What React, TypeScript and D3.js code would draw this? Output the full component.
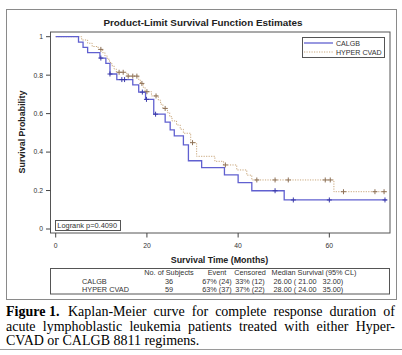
import React, { useEffect, useRef } from "react";
import * as d3 from "d3";

// ---- data ----
const calgbTimes = [0, 5, 6, 7, 9.7, 11, 11.9, 13.4, 16.9, 18.2, 19.7, 21.5, 24, 25.1, 26, 28, 29.1, 32, 37, 40, 43, 50.1, 72.6];
const calgbSurv = [1, 0.972, 0.944, 0.917, 0.889, 0.861, 0.806, 0.777, 0.749, 0.712, 0.674, 0.597, 0.556, 0.515, 0.484, 0.437, 0.355, 0.319, 0.281, 0.241, 0.199, 0.151, 0.151];
const calgbCensor = [9.9, 11.9, 14.5, 15.1, 19.0, 19.9, 21.9, 48.1, 52.1, 60, 72.2];

const hyperTimes = [0, 5.7, 7, 8, 9.3, 10.3, 10.8, 11.3, 11.8, 12.3, 12.8, 13.3, 15.6, 18.2, 18.6, 19.2, 19.6, 21, 22.5, 23, 23.5, 24.5, 25, 25.5, 26.5, 27.3, 28, 29.6, 30.9, 34.9, 36.8, 39.7, 41.9, 43, 61, 72.6];
const hyperSurv = [1, 0.983, 0.966, 0.949, 0.934, 0.917, 0.9, 0.883, 0.866, 0.849, 0.832, 0.815, 0.795, 0.774, 0.757, 0.736, 0.714, 0.692, 0.67, 0.649, 0.627, 0.605, 0.584, 0.562, 0.541, 0.519, 0.498, 0.449, 0.378, 0.352, 0.333, 0.307, 0.28, 0.255, 0.194, 0.194];
const hyperCensor = [9.9, 13.9, 14.8, 15.9, 16.9, 17.8, 18.9, 20, 22, 24, 30, 37.2, 44.1, 48.1, 51, 59.1, 60.2, 63.1, 70, 72];

const xTicks = [0, 20, 40, 60];
const yTicks = [0, 0.2, 0.4, 0.6, 0.8, 1];
const yTickLabels = ["0", "0.2", "0.4", "0.6", "0.8", "1"];

const seriesNames = ["CALGB", "HYPER CVAD"];
const tableHeader = ["No. of Subjects", "Event", "Censored", "Median Survival (95% CL)"];
const tableSubjects = ["36", "59"];
const tableEvent = ["67% (24)", "63% (37)"];
const tableCensored = ["33% (12)", "37% (22)"];
const tableMedian = ["26.00 ( 21.00   32.00)", "28.00 ( 24.00   35.00)"];

const captionLines = [
  "Kaplan-Meier curve for complete response duration of",
  "acute lymphoblastic leukemia patients treated with either Hyper-",
  "CVAD or CALGB 8811 regimens.",
];

const SANS = "'Liberation Sans', Arial, sans-serif";
const SERIF = "'Liberation Serif', 'Times New Roman', serif";

const blue = "#6060d0";
const blueMark = "#3a3aa8";
const tan = "#c9a77c";
const tanMark = "#8e7258";

function stepValue(times: number[], surv: number[], t: number) {
  let v = surv[0];
  for (let i = 0; i < times.length; i++) if (times[i] <= t) v = surv[i];
  return v;
}

export default function App() {
  const x = d3.scaleLinear().domain([-1.25, 73.3]).range([50, 390]);
  const y = d3.scaleLinear().domain([0, 1]).range([229, 36.7]);
  const line = d3
    .line<[number, number]>()
    .x((d) => x(d[0]))
    .y((d) => y(d[1]))
    .curve(d3.curveStepAfter);

  const calgbPts = calgbTimes.map((t, i) => [t, calgbSurv[i]] as [number, number]);
  const hyperPts = hyperTimes.map((t, i) => [t, hyperSurv[i]] as [number, number]);

  const capRefs = useRef<(SVGTextElement | null)[]>([]);
  useEffect(() => {
    const targets = [389 - 62, 389];
    capRefs.current.forEach((el, i) => {
      if (!el || i > 1) return;
      el.setAttribute("word-spacing", "0");
      const w = el.getComputedTextLength();
      const spaces = (el.textContent || "").split(" ").length - 1;
      const extra = (targets[i] - w) / spaces;
      el.setAttribute("word-spacing", String(extra));
    });
  }, []);

  const plus = (cx: number, cy: number, color: string, key: string) => (
    <g key={key} stroke={color} strokeWidth={1}>
      <line x1={cx - 2.5} x2={cx + 2.5} y1={cy} y2={cy} />
      <line x1={cx} x2={cx} y1={cy - 2.5} y2={cy + 2.5} />
    </g>
  );

  const colX = [169, 217, 250, 314];
  const tfs = 7.3;

  return (
    <svg width={402} height={355} style={{ position: "absolute", left: 0, top: 0, background: "#fff" }}>
      <rect x={0} y={0} width={402} height={355} fill="#fff" />
      {/* outer frame */}
      <rect x={6.5} y={9.5} width={390} height={290} fill="none" stroke="#8a8a8a" strokeWidth={1} />
      <line x1={0} x2={402} y1={349.5} y2={349.5} stroke="#9a9a9a" strokeWidth={1} />

      {/* title */}
      <text x={203} y={26} textAnchor="middle" fontFamily={SANS} fontWeight="bold" fontSize={9.9} fill="#222">
        Product-Limit Survival Function Estimates
      </text>

      {/* curves */}
      <path d={line(hyperPts) || ""} fill="none" stroke={tan} strokeWidth={1} strokeDasharray="1.2,1.3" />
      <path d={line(calgbPts) || ""} fill="none" stroke={blue} strokeWidth={1.3} />
      {hyperCensor.map((t, i) => plus(x(t), y(stepValue(hyperTimes, hyperSurv, t)), tanMark, "h" + i))}
      {calgbCensor.map((t, i) => plus(x(t), y(stepValue(calgbTimes, calgbSurv, t)), blueMark, "c" + i))}

      {/* plot frame */}
      <rect x={50.5} y={32} width={339.5} height={201} fill="none" stroke="#555" strokeWidth={1} />

      {/* y axis ticks */}
      {yTicks.map((v, i) => (
        <g key={"yt" + i}>
          <line x1={46} x2={50.5} y1={y(v)} y2={y(v)} stroke="#444" />
          <text x={43} y={y(v) + 2.4} textAnchor="end" fontFamily={SANS} fontSize={6.8} fill="#333">
            {yTickLabels[i]}
          </text>
        </g>
      ))}
      {/* x axis ticks */}
      {xTicks.map((v) => (
        <g key={"xt" + v}>
          <line x1={x(v)} x2={x(v)} y1={233} y2={237.5} stroke="#444" />
          <text x={x(v)} y={247.5} textAnchor="middle" fontFamily={SANS} fontSize={6.8} fill="#333">
            {v}
          </text>
        </g>
      ))}

      {/* axis labels */}
      <text x={219.5} y={262.5} textAnchor="middle" fontFamily={SANS} fontWeight="bold" fontSize={8.9} fill="#222">
        Survival Time (Months)
      </text>
      <text transform="translate(24.5,132) rotate(-90)" textAnchor="middle" fontFamily={SANS} fontWeight="bold" fontSize={8.9} fill="#222">
        Survival Probability
      </text>

      {/* legend */}
      <rect x={302.5} y={37.5} width={82} height={20} fill="#fff" stroke="#555" />
      <line x1={304} x2={333} y1={43} y2={43} stroke={blue} strokeWidth={1.3} />
      <line x1={304} x2={333} y1={52} y2={52} stroke={tan} strokeWidth={1} strokeDasharray="1.2,1.3" />
      <text x={336} y={45.5} fontFamily={SANS} fontSize={7.1} fill="#333">{seriesNames[0]}</text>
      <text x={336} y={54.5} fontFamily={SANS} fontSize={7.1} fill="#333">{seriesNames[1]}</text>

      {/* logrank box */}
      <rect x={55.5} y={220.5} width={65} height={10} fill="#fff" stroke="#555" />
      <text x={57.3} y={228.3} fontFamily={SANS} fontSize={7.4} fill="#333">Logrank p=0.4090</text>

      {/* table */}
      <rect x={50.5} y={268.5} width={339} height={25.5} fill="#fff" stroke="#555" />
      {tableHeader.map((h, i) => (
        <text key={"th" + i} x={colX[i]} y={275.4} textAnchor="middle" fontFamily={SANS} fontSize={tfs} fill="#333">{h}</text>
      ))}
      {seriesNames.map((n, r) => (
        <g key={"tr" + r} fontFamily={SANS} fontSize={tfs} fill="#333">
          <text x={82} y={283.9 + r * 8.4}>{n}</text>
          <text x={colX[0]} y={283.9 + r * 8.4} textAnchor="middle">{tableSubjects[r]}</text>
          <text x={colX[1]} y={283.9 + r * 8.4} textAnchor="middle">{tableEvent[r]}</text>
          <text x={colX[2]} y={283.9 + r * 8.4} textAnchor="middle">{tableCensored[r]}</text>
          <text x={273.5} y={283.9 + r * 8.4} style={{ whiteSpace: "pre" }}>{tableMedian[r]}</text>
        </g>
      ))}

      {/* caption */}
      <text x={6} y={316} fontFamily={SERIF} fontSize={14} fontWeight="bold" fill="#000">Figure 1.</text>
      <text ref={(el) => { capRefs.current[0] = el; }} x={68} y={316} fontFamily={SERIF} fontSize={14} fill="#000">
        {captionLines[0]}
      </text>
      <text ref={(el) => { capRefs.current[1] = el; }} x={6} y={330.5} fontFamily={SERIF} fontSize={14} fill="#000">
        {captionLines[1]}
      </text>
      <text ref={(el) => { capRefs.current[2] = el; }} x={6} y={345} fontFamily={SERIF} fontSize={14} fill="#000">
        {captionLines[2]}
      </text>
    </svg>
  );
}
